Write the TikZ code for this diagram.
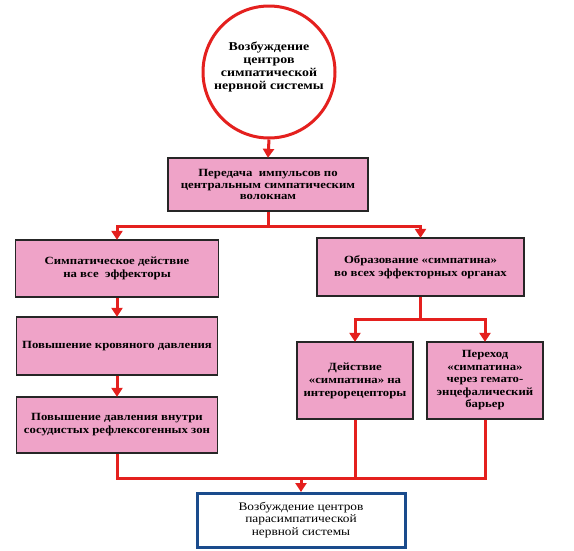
\documentclass[tikz,border=0pt]{standalone}
\usepackage{fontspec}
\setmainfont[FakeStretch=1.16]{Liberation Serif}
\usetikzlibrary{arrows.meta}
\definecolor{pinkfill}{HTML}{EFA3C8}
\definecolor{redline}{HTML}{E4201E}
\definecolor{bluebord}{HTML}{1A4B8C}
\tikzset{
  pinkbox/.style={draw=black!85, line width=1.3pt, fill=pinkfill, align=center,
    inner sep=2pt, font=\bfseries\fontsize{11}{13}\selectfont},
  conn/.style={draw=redline, line width=3pt},
  arr/.style={conn, -{Triangle[width=11pt,length=9pt]}, shorten >=-0.5pt},
}
\begin{document}
\begin{tikzpicture}[x=1pt,y=-1pt]
\useasboundingbox (0,0) rectangle (574,550);
\fill[white] (0,0) rectangle (574,550);
% nodes
\node[circle, draw=redline, line width=3pt, fill=white, minimum size=132pt, inner sep=0pt] (top) at (269,72) {};
\node[align=center, inner sep=0pt, font=\bfseries\fontsize{12}{12.8}\selectfont] (toptext) at (269,67)
  {Возбуждение\\центров\\симпатической\\нервной системы};
\node[pinkbox, minimum width=200pt, minimum height=53pt, font=\bfseries\fontsize{11}{11.5}\selectfont] (b1) at (268,184.5)
  {Передача\ \ импульсов по\\центральным симпатическим\\волокнам};
\node[pinkbox, minimum width=203pt, minimum height=57pt] (l1) at (117,268.5)
  {Симпатическое действие\\на все\ \ эффекторы};
\node[pinkbox, minimum width=207pt, minimum height=58pt] (r1) at (420.5,267)
  {Образование «симпатина»\\во всех эффекторных органах};
\node[pinkbox, minimum width=201pt, minimum height=58pt] (l2) at (117,346)
  {Повышение кровяного давления};
\node[pinkbox, minimum width=201pt, minimum height=56pt] (l3) at (117,425)
  {Повышение давления внутри\\сосудистых рефлексогенных зон};
\node[pinkbox, minimum width=116pt, minimum height=77pt] (r2) at (355,380.5)
  {Действие\\«симпатина» на\\интерорецепторы};
\node[pinkbox, minimum width=116pt, minimum height=77pt, font=\bfseries\fontsize{11}{12.5}\selectfont] (r3) at (485,380.5)
  {Переход\\«симпатина»\\через гемато-\\энцефалический\\барьер};
\node[draw=bluebord, line width=3pt, fill=white, minimum width=208pt, minimum height=54pt,
  align=center, inner sep=2pt, font=\fontsize{11.5}{12.5}\selectfont] (par) at (301,520)
  {Возбуждение центров\\парасимпатической\\нервной системы};
% junctions
\coordinate (j1) at (268,226);
\coordinate (j2) at (420.5,319);
\coordinate (j3) at (301,478);
% connectors
\draw[arr] (top.south) -- (b1.north);
\draw[conn] (b1.south) -- (j1);
\draw[arr] (j1) -| (l1.north);
\draw[arr] (j1) -| (r1.north);
\draw[arr] (l1.south) -- (l2.north);
\draw[arr] (l2.south) -- (l3.north);
\draw[conn] (r1.south) -- (j2);
\draw[arr] (j2) -| (r2.north);
\draw[arr] (j2) -| (r3.north);
\draw[conn] (l3.south) |- (j3);
\draw[conn] (r3.south) |- (j3);
\draw[conn] (r2.south) -- (r2.south |- j3);
\draw[arr] (j3) -- (par.north);
\end{tikzpicture}
\end{document}
